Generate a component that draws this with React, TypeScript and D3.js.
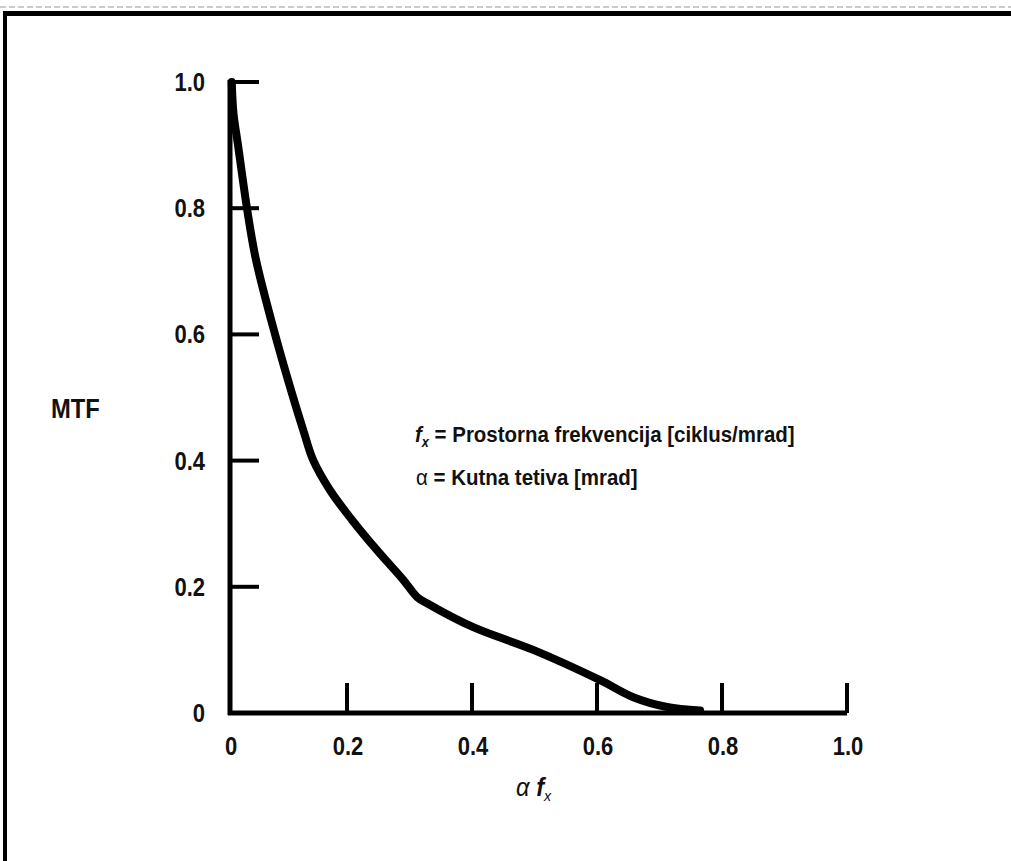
import React from "react";
import * as d3 from "d3";

const curveX = [0.003, 0.006, 0.0137, 0.029, 0.044, 0.077, 0.108, 0.125, 0.142, 0.171, 0.208, 0.248, 0.29, 0.312, 0.328, 0.402, 0.498, 0.605, 0.658, 0.712, 0.765];
const curveY = [1.0, 0.95, 0.9, 0.8, 0.72, 0.6, 0.5, 0.449, 0.401, 0.353, 0.306, 0.258, 0.211, 0.184, 0.174, 0.136, 0.1, 0.052, 0.025, 0.0095, 0.004];
const xTicks = [0, 0.2, 0.4, 0.6, 0.8, 1.0];
const yTicks = [0, 0.2, 0.4, 0.6, 0.8, 1.0];
const xTickLabels = ["0", "0.2", "0.4", "0.6", "0.8", "1.0"];
const yTickLabels = ["0", "0.2", "0.4", "0.6", "0.8", "1.0"];

const W = 1011;
const H = 861;

export default function App() {
  const x = d3.scaleLinear().domain([0, 0.2, 1]).range([230, 347, 847]);
  const y = d3.scaleLinear().domain([0, 1]).range([713, 82]);
  const pts: [number, number][] = curveX.map((v, i) => [v, curveY[i]]);
  const line = d3
    .line<[number, number]>()
    .x((d) => x(d[0]))
    .y((d) => y(d[1]))
    .curve(d3.curveCatmullRom.alpha(0.5));
  const font = "'Liberation Sans', Arial, Helvetica, sans-serif";
  const sx = 0.88;
  return (
    <svg
      width={W}
      height={H}
      style={{ position: "absolute", left: 0, top: 0, background: "#fff" }}
    >
      <rect x={0} y={0} width={W} height={H} fill="#fff" />
      {/* frame */}
      <line x1={0} x2={W} y1={7} y2={7} stroke="#bbb" strokeWidth={1.5} strokeDasharray="6 3" />
      <line x1={3} x2={W} y1={13.5} y2={13.5} stroke="#000" strokeWidth={5} />
      <line x1={5} x2={5} y1={11} y2={H} stroke="#000" strokeWidth={4} />

      {/* axes */}
      <line x1={x(0)} x2={x(0)} y1={y(1) - 2} y2={y(0) + 2} stroke="#000" strokeWidth={5} />
      <line x1={x(0) - 2} x2={x(1)} y1={y(0)} y2={y(0)} stroke="#000" strokeWidth={5} />
      {yTicks.slice(1).map((t) => (
        <line key={"yt" + t} x1={x(0)} x2={x(0) + 29} y1={y(t)} y2={y(t)} stroke="#000" strokeWidth={4} />
      ))}
      {xTicks.slice(1).map((t) => (
        <line key={"xt" + t} x1={x(t)} x2={x(t)} y1={y(0)} y2={y(0) - 30} stroke="#000" strokeWidth={4} />
      ))}
      {yTicks.map((t, i) => (
        <text
          key={"yl" + t}
          transform={`translate(205,${y(t)}) scale(${sx},1)`}
          dy="0.36em"
          textAnchor="end"
          fontFamily={font}
          fontWeight="bold"
          fontSize={25}
          fill="#111"
        >
          {yTickLabels[i]}
        </text>
      ))}
      {xTicks.map((t, i) => (
        <text
          key={"xl" + t}
          transform={`translate(${x(t) + 1},755) scale(${sx},1)`}
          textAnchor="middle"
          fontFamily={font}
          fontWeight="bold"
          fontSize={25}
          fill="#111"
        >
          {xTickLabels[i]}
        </text>
      ))}

      {/* curve */}
      <path d={line(pts) || ""} fill="none" stroke="#000" strokeWidth={8} strokeLinejoin="round" strokeLinecap="round" />

      {/* labels */}
      <text transform={`translate(51,418) scale(${sx},1)`} fontFamily={font} fontWeight="bold" fontSize={27} fill="#111">
        MTF
      </text>
      <text transform="translate(415,442) scale(0.91,1)" fontFamily={font} fontWeight="bold" fontSize={22.5} fill="#111">
        <tspan fontStyle="italic">f</tspan>
        <tspan fontStyle="italic" fontSize={14} dy={5}>x</tspan>
        <tspan dy={-5}> = Prostorna frekvencija [ciklus/mrad]</tspan>
      </text>
      <text transform="translate(416,485) scale(0.91,1)" fontFamily={font} fontWeight="bold" fontSize={22.5} fill="#111">
        <tspan fontWeight="normal">α</tspan>
        <tspan> = Kutna tetiva [mrad]</tspan>
      </text>
      <text transform={`translate(516,796) scale(0.95,1)`} fontFamily={font} fontSize={25} fontStyle="italic" fill="#111">
        <tspan>α </tspan>
        <tspan fontWeight="bold">f</tspan>
        <tspan fontSize={15} dy={5}>x</tspan>
      </text>
    </svg>
  );
}
